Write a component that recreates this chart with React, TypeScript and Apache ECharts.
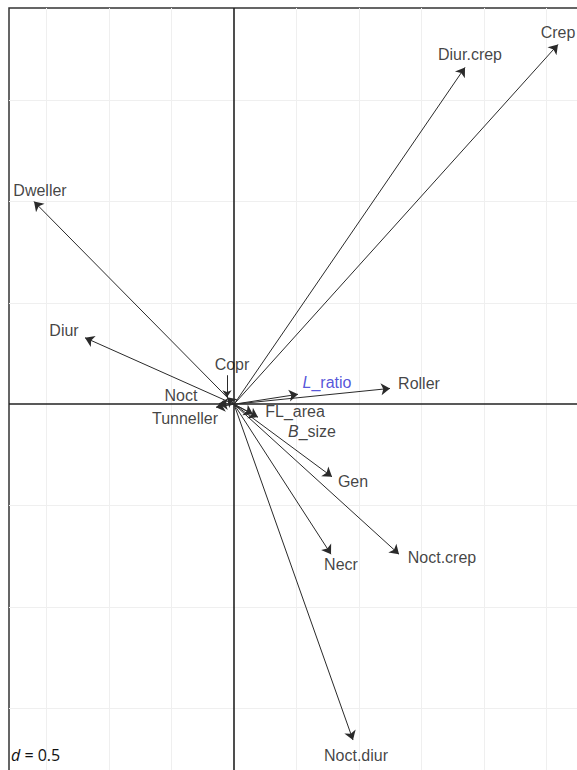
import React, { useEffect, useRef } from "react";
import * as echarts from "echarts";

// Variable vectors (biplot coordinates)
const names = [
  "Dweller", "Diur", "Diur.crep", "Crep", "Copr", "Noct", "Tunneller",
  "L_ratio", "Roller", "FL_area", "B_size", "Gen", "Necr", "Noct.crep", "Noct.diur",
];
const xs = [-1.6, -1.192, 1.848, 2.592, -0.056, -0.12, -0.144, 0.512, 1.248, 0.192, 0.152, 0.784, 0.776, 1.32, 0.952];
const ys = [1.0, 0.328, 1.662, 1.775, 0.034, 0.004, -0.015, 0.049, 0.078, -0.064, -0.049, -0.358, -0.74, -0.74, -1.657];

// Leader line for Copr label (from label to vector tip)
const leaderFrom = [-0.056, 0.143];
const leaderTo = [-0.056, 0.034];

// Grid tick positions (d = 0.5)
const gridX = [-1.5, -1, -0.5, 0.5, 1, 1.5, 2, 2.5];
const gridY = [-1.5, -1, -0.5, 0.5, 1, 1.5];

const X_MIN = -1.8, X_MAX = 2.8, Y_MIN = -1.95, Y_MAX = 1.955;

// label offsets in px (layout)
const labelOffsets: number[][] = [
  [6, -11], [-21, -7], [5, -13], [0, -12], [5, -33], [-38, -8], [-31, 11],
  [29, -12], [29, -5], [37, -6], [59, 17], [21, 5], [10, 10], [43, 3], [3, 15],
];

export default function App() {
  const ref = useRef<HTMLDivElement>(null);
  useEffect(() => {
    if (!ref.current) return;
    const chart = echarts.init(ref.current, null, { renderer: "svg" });
    const fmt = (n: string) => {
      if (n === "L_ratio") return "{bi|L}{b|_ratio}";
      if (n === "B_size") return "{i|B}_size";
      return n;
    };
    const FS = 16;
    chart.setOption({
      animation: false,
      backgroundColor: "#ffffff",
      grid: {
        left: 9, top: 8, width: (X_MAX - X_MIN) * 125, height: (Y_MAX - Y_MIN) * 202.67,
        outerBoundsMode: "none", containLabel: false,
        show: true, borderColor: "#333", borderWidth: 1.5, backgroundColor: "#fff",
      },
      xAxis: {
        type: "value", min: X_MIN, max: X_MAX,
        axisLine: { show: false }, axisTick: { show: false }, axisLabel: { show: false }, splitLine: { show: false },
      },
      yAxis: {
        type: "value", min: Y_MIN, max: Y_MAX,
        axisLine: { show: false }, axisTick: { show: false }, axisLabel: { show: false }, splitLine: { show: false },
      },
      series: [
        {
          type: "lines", coordinateSystem: "cartesian2d", silent: true, z: 1,
          lineStyle: { color: "#efefef", width: 1, opacity: 1 },
          data: [
            ...gridX.map((g) => ({ coords: [[g, Y_MIN], [g, Y_MAX]] })),
            ...gridY.map((g) => ({ coords: [[X_MIN, g], [X_MAX, g]] })),
          ],
        },
        {
          type: "lines", coordinateSystem: "cartesian2d", silent: true, z: 2,
          lineStyle: { color: "#222", width: 1.6, opacity: 1 },
          data: [
            { coords: [[0, Y_MIN], [0, Y_MAX]] },
            { coords: [[X_MIN, 0], [X_MAX, 0]] },
          ],
        },
        {
          type: "lines", coordinateSystem: "cartesian2d", silent: true, z: 3,
          symbol: ["none", "arrow"], symbolSize: [1, 9],
          lineStyle: { color: "#2a2a2a", width: 1, opacity: 1 },
          itemStyle: { color: "#111" },
          data: names.map((n, i) => ({ coords: [[0, 0], [xs[i], ys[i]]] })),
        },
        {
          type: "lines", coordinateSystem: "cartesian2d", silent: true, z: 3,
          symbol: ["none", "arrow"], symbolSize: [1, 7],
          lineStyle: { color: "#2a2a2a", width: 1, opacity: 1 },
          data: [{ coords: [leaderFrom, leaderTo] }],
        },
        {
          type: "scatter", symbolSize: 0, z: 4, silent: true,
          data: names.map((n, i) => ({
            name: n,
            value: [xs[i], ys[i]],
            label: {
              offset: labelOffsets[i],
              color: n === "L_ratio" ? "#2a2ad0" : "#111",
            },
          })),
          label: {
            show: true, position: "inside", align: "center", verticalAlign: "middle",
            fontFamily: "Liberation Sans", fontSize: FS, color: "#111",
            formatter: (p: any) => fmt(p.name),
            rich: {
              i: { fontStyle: "italic", fontSize: FS, fontFamily: "Liberation Sans", color: "#111" },
              bi: { fontStyle: "italic", fontSize: FS, fontFamily: "Liberation Sans", color: "#2a2ad0" },
              b: { fontSize: FS, fontFamily: "Liberation Sans", color: "#2a2ad0" },
            },
          },
        },
      ],
      graphic: [
        {
          type: "text", left: 11, top: 747, z: 10,
          style: {
            text: "{i|d} = 0.5",
            fontFamily: "Open Sans", fontSize: 16, fill: "#111",
            rich: { i: { fontStyle: "italic", fontFamily: "Open Sans", fontSize: 16, fill: "#111" } },
          } as any,
        },
      ],
    });
    return () => chart.dispose();
  }, []);
  return (
    <div
      ref={ref}
      style={{ width: 577, height: 770, position: "absolute", left: 0, top: 0, overflow: "hidden", background: "#fff" }}
    />
  );
}
